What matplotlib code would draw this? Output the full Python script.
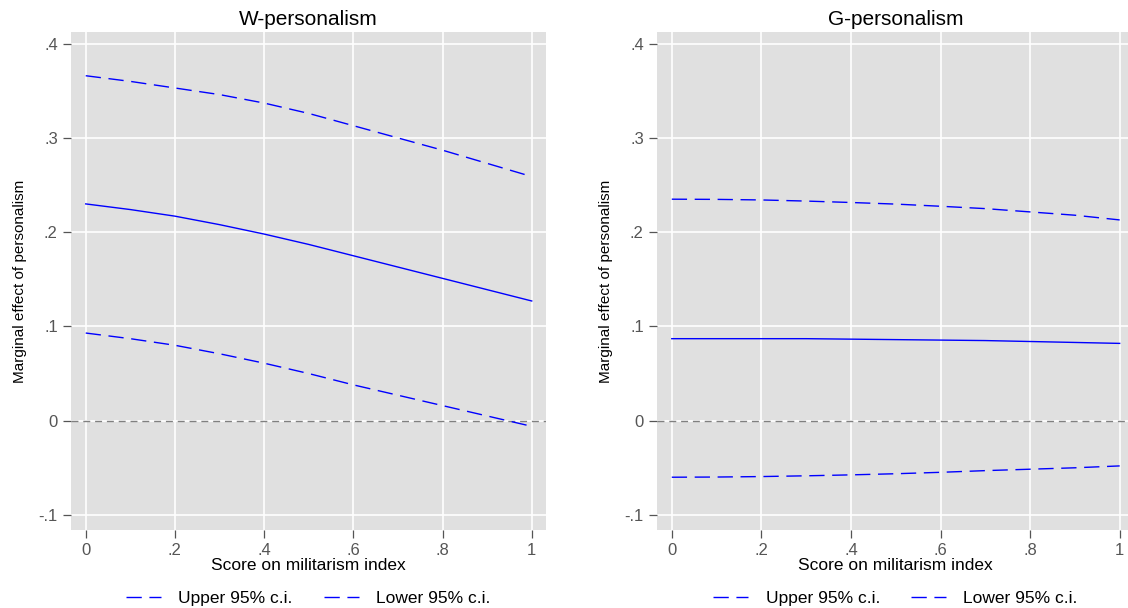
import numpy as np
import matplotlib.pyplot as plt
from matplotlib.lines import Line2D

# militarism index grid
militarism = [0.0, 0.1, 0.2, 0.3, 0.4, 0.5, 0.6, 0.7, 0.8, 0.9, 1.0]

# W-personalism marginal effect and 95% bounds
w_effect = [0.230, 0.224, 0.217, 0.208, 0.198, 0.187, 0.175, 0.163, 0.151, 0.139, 0.127]
w_upper = [0.366, 0.360, 0.353, 0.346, 0.337, 0.326, 0.313, 0.300, 0.287, 0.273, 0.259]
w_lower = [0.093, 0.087, 0.080, 0.071, 0.061, 0.050, 0.038, 0.027, 0.016, 0.005, -0.006]

# G-personalism marginal effect and 95% bounds
g_effect = [0.087, 0.087, 0.087, 0.087, 0.0865, 0.086, 0.0855, 0.085, 0.084, 0.083, 0.082]
g_upper = [0.235, 0.2348, 0.2342, 0.233, 0.2315, 0.2298, 0.2275, 0.225, 0.2215, 0.218, 0.213]
g_lower = [-0.060, -0.0598, -0.0593, -0.0585, -0.0575, -0.0563, -0.0548, -0.053, -0.0515, -0.050, -0.048]

panel_titles = ["W-personalism", "G-personalism"]
x_ticks = [0, 0.2, 0.4, 0.6, 0.8, 1.0]
x_tick_labels = ["0", ".2", ".4", ".6", ".8", "1"]
y_ticks = [-0.1, 0, 0.1, 0.2, 0.3, 0.4]
y_tick_labels = ["-.1", "0", ".1", ".2", ".3", ".4"]
legend_labels = ["Upper 95% c.i.", "Lower 95% c.i."]

plt.rcParams["font.family"] = ["Liberation Sans", "DejaVu Sans"]

BLUE = "#0000ff"
BG = "#e0e0e0"
TICK_GRAY = "#555555"
CI_DASH = (11, 5.5)

fig = plt.figure(figsize=(11.28, 6.08), dpi=100)
ax_left = fig.add_axes([71 / 1128, 1 - 530 / 608, 475 / 1128, 498 / 608])
# right panel runs slightly past the figure edge
ax_right = fig.add_axes([657 / 1128, 1 - 530 / 608, 477 / 1128, 498 / 608])

panels = [
    (ax_left, w_effect, w_upper, w_lower),
    (ax_right, g_effect, g_upper, g_lower),
]

for (ax, eff, up, lo), title in zip(panels, panel_titles):
    ax.set_facecolor(BG)
    for s in ax.spines.values():
        s.set_visible(False)

    ax.set_xlim(-0.033, 1.032)
    ax.set_ylim(-0.116, 0.4124)
    ax.set_xticks(x_ticks)
    ax.set_xticklabels(x_tick_labels)
    ax.set_yticks(y_ticks)
    ax.set_yticklabels(y_tick_labels)
    ax.grid(True, color="white", linewidth=1.2)
    ax.set_axisbelow(True)
    ax.tick_params(axis="both", direction="out", length=5.5, width=0.9,
                   color=TICK_GRAY, labelcolor=TICK_GRAY, labelsize=12, pad=4)

    ax.axhline(0, color="#808080", linewidth=1.0, linestyle=(0, (5, 3.5)))
    ax.plot(militarism, eff, color=BLUE, linewidth=1.0)
    ax.plot(militarism, up, color=BLUE, linewidth=1.0, dashes=CI_DASH)
    ax.plot(militarism, lo, color=BLUE, linewidth=1.0, dashes=CI_DASH)

    ax.set_title(title, fontsize=15, pad=5)
    ax.set_xlabel("Score on militarism index", fontsize=12.5, labelpad=0)
    ax.set_ylabel("Marginal effect of personalism", fontsize=11,
                  family=["Liberation Sans Narrow", "Liberation Sans"], labelpad=8)

    handles = [Line2D([], [], color=BLUE, linewidth=1.0, dashes=CI_DASH) for _ in legend_labels]
    ax.legend(handles, legend_labels, loc="upper center", bbox_to_anchor=(0.5, -0.09),
              ncol=2, frameon=False, fontsize=12.5, handlelength=2.0,
              columnspacing=1.8, handletextpad=1.0)

fig.savefig("out.png", dpi=100)
